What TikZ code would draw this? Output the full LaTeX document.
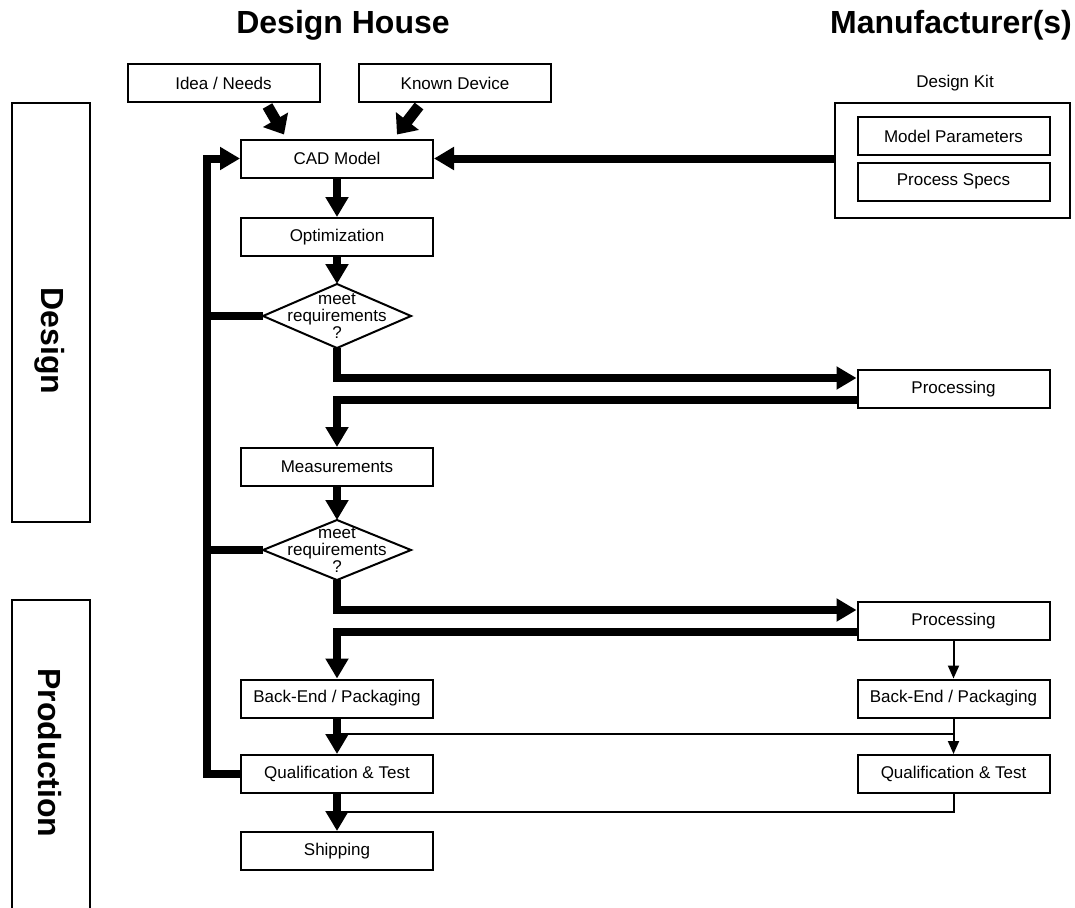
\documentclass[tikz,border=0pt]{standalone}
\usepackage{fontspec}
\setmainfont{Liberation Sans}
\usetikzlibrary{arrows.meta,calc}
\begin{document}
\begin{tikzpicture}[x=1pt,y=-1pt,
 box/.style={draw,line width=2pt,minimum width=192pt,minimum height=38pt,inner sep=0pt,font=\fontsize{17}{20}\selectfont},
 lbl/.style={inner sep=0pt,font=\fontsize{17}{20}\selectfont},
 big/.style={inner sep=0pt,font=\fontsize{32}{36}\selectfont\bfseries},
 fat/.style={line width=8pt,-{Triangle[length=20pt,width=22pt]}},
 fatin/.style={line width=11pt,-{Triangle[length=17pt,width=28pt]}},
 fatline/.style={line width=8pt},
 thinarr/.style={line width=2pt,-{Triangle[length=13pt,width=11pt]}},
 thinline/.style={line width=2pt},
 dia/.style={line width=2pt,line join=miter},
 dtext/.style={inner sep=0pt,align=center,font=\fontsize{17}{17}\selectfont}
]
\useasboundingbox[fill=white] (0,0) rectangle (1075,907);

% titles
\node[big] (th1) at (343,25) {Design House};
\node[big] (th2) at (951,25) {Manufacturer(s)};

% side boxes
\node[draw,line width=2pt,minimum width=78pt,minimum height=419pt,inner sep=0pt] (dbox) at (51,312.5) {};
\node[big,rotate=-90] (dtxt) at (50,341) {Design};
\node[draw,line width=2pt,minimum width=78pt,minimum height=320pt,inner sep=0pt] (pbox) at (51,760) {};
\node[big,rotate=-90] (ptxt) at (50,753) {Production};

% design house column
\node[box] (idea) at (223.5,83) {Idea / Needs};
\node[box] (known) at (455,83) {Known Device};
\node[box] (cad) at (337,158.5) {CAD Model};
\node[box] (opt) at (337,237) {Optimization};

\coordinate (d1) at (337,316);
\draw[dia] ($(d1)+(-74,0)$) coordinate (d1w) -- ($(d1)+(0,-32)$) coordinate (d1n)
  -- ($(d1)+(74,0)$) coordinate (d1e) -- ($(d1)+(0,32)$) coordinate (d1s) -- cycle;
\node[dtext] (d1t) at (d1) {meet\\requirements\\?};

\node[box] (meas) at (337,467) {Measurements};

\coordinate (d2) at (337,550);
\draw[dia] ($(d2)+(-74,0)$) coordinate (d2w) -- ($(d2)+(0,-30)$) coordinate (d2n)
  -- ($(d2)+(74,0)$) coordinate (d2e) -- ($(d2)+(0,30)$) coordinate (d2s) -- cycle;
\node[dtext] (d2t) at (d2) {meet\\requirements\\?};

\node[box] (be1) at (337,698.5) {Back-End / Packaging};
\node[box] (q1) at (337,774) {Qualification \& Test};
\node[box] (ship) at (337,851) {Shipping};

% manufacturer column
\node[lbl] (dkl) at (955,83) {Design Kit};
\node[draw,line width=2pt,minimum width=235pt,minimum height=115pt,inner sep=0pt] (dk) at (952.5,160.5) {};
\node[box] (mp) at (953.5,136) {Model Parameters};
\node[box] (ps) at (953.5,181.5) {Process Specs};
\node[box] (proc1) at (953.5,389) {Processing};
\node[box] (proc2) at (953.5,621) {Processing};
\node[box] (be2) at (953.5,698.5) {Back-End / Packaging};
\node[box] (q2) at (953.5,774) {Qualification \& Test};

% connectors
\draw[fatin] ($(idea.south)+(44,3)$) -- ($(cad.north)+(-53,-4)$);
\draw[fatin] ($(known.south)+(-36,3)$) -- ($(cad.north)+(60,-4)$);
\draw[fat] (dk.west |- cad.east) -- (cad.east);
\draw[fat] (cad.south) -- (opt.north);
\draw[fat] (opt.south) -- (d1n);
\draw[fat] (q1.west) -- ++(-33,0) coordinate (fb) |- (cad.west);
\draw[fatline] (d1w) -- (d1w -| fb);
\draw[fatline] (d2w) -- (d2w -| fb);
\draw[fat] (d1s) |- ([yshift=11pt]proc1.west);
\draw[fat] ([yshift=-11pt]proc1.west) -| (meas.north);
\draw[fat] (meas.south) -- (d2n);
\draw[fat] (d2s) |- ([yshift=11pt]proc2.west);
\draw[fat] ([yshift=-11pt]proc2.west) -| (be1.north);
\draw[thinarr] (proc2.south) -- (be2.north);
\draw[fat] (be1.south) -- (q1.north);
\draw[thinarr] (be2.south) -- (q2.north);
\coordinate (j1) at ($(be1.south)+(0,15)$);
\draw[thinline] (j1 -| be2.south) -- (j1);
\draw[thinline] (q2.south) |- ($(q1.south)+(0,18)$);
\draw[fat] (q1.south) -- (ship.north);
\end{tikzpicture}
\end{document}
